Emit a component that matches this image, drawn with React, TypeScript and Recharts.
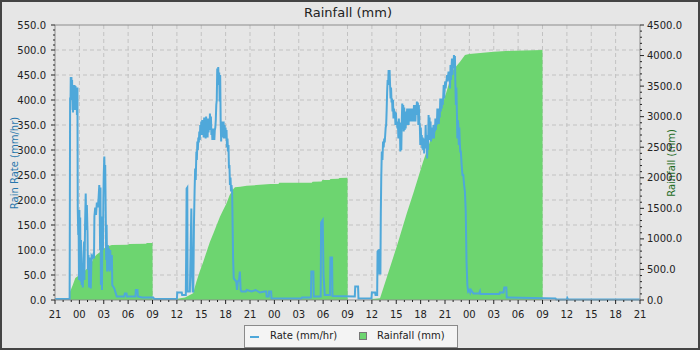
import { Area, CartesianGrid, ComposedChart, Legend, Line, ReferenceLine, XAxis, YAxis } from "recharts"

// hours counted from 21:00 on the first day
const hourLabels = ["21", "00", "03", "06", "09", "12", "15", "18", "21", "00", "03", "06", "09", "12", "15", "18", "21", "00", "03", "06", "09", "12", "15", "18", "21"]
const rateTicks = [0, 50, 100, 150, 200, 250, 300, 350, 400, 450, 500, 550]
const rainTicks = [0, 500, 1000, 1500, 2000, 2500, 3000, 3500, 4000, 4500]

// [hour, rate mm/hr]
const rate: [number, number][] = [
  [0, 2], [1.8, 2],
  [1.82, 123], [1.86, 405], [1.9, 380], [1.94, 446], [1.98, 420], [2.02, 446], [2.06, 430], [2.1, 440], [2.14, 400], [2.18, 430], [2.22, 375], [2.28, 425],
  [2.34, 380], [2.4, 430], [2.46, 395], [2.52, 428], [2.58, 380], [2.64, 425], [2.7, 370], [2.76, 425],
  [2.8, 183], [2.86, 130], [2.9, 175], [2.95, 40], [3.0, 180], [3.05, 60], [3.1, 165], [3.15, 37], [3.2, 120], [3.28, 30], [3.35, 60], [3.42, 25], [3.5, 80], [3.58, 117], [3.62, 40],
  [3.7, 150], [3.78, 213], [3.85, 140], [3.92, 190], [4.0, 137], [4.05, 60], [4.12, 90], [4.2, 25], [4.3, 85], [4.4, 23], [4.5, 88], [4.6, 85], [4.7, 90], [4.8, 83],
  [4.85, 167], [4.95, 185], [5.05, 170], [5.15, 195], [5.25, 185], [5.35, 200], [5.45, 230], [5.5, 190], [5.55, 100], [5.6, 225], [5.65, 30], [5.7, 150], [5.78, 20], [5.85, 167], [5.9, 100],
  [5.95, 200], [6.0, 250], [6.07, 287], [6.12, 240], [6.18, 270], [6.25, 160], [6.3, 80], [6.35, 150], [6.42, 57], [6.5, 110], [6.58, 60], [6.65, 103], [6.72, 57], [6.8, 100], [6.9, 60], [7.0, 90],
  [7.05, 30], [7.3, 23], [7.6, 7], [8.5, 7], [8.6, 13], [8.8, 13], [8.85, 7], [9.9, 7], [9.95, 20], [10.15, 20], [10.2, 7], [10.7, 5], [12.1, 5], [12.2, 2],
  [15.0, 2], [15.05, 15], [15.6, 15], [15.65, 10], [16.1, 10], [16.15, 100], [16.2, 223], [16.28, 225], [16.32, 17], [16.6, 17], [16.68, 90], [16.78, 183], [16.85, 60], [16.95, 17],
  [17.02, 17], [17.1, 150], [17.18, 217], [17.25, 263], [17.32, 240], [17.4, 297], [17.46, 280], [17.52, 317], [17.58, 300], [17.64, 325], [17.7, 315], [17.76, 337], [17.82, 320],
  [17.88, 350], [17.94, 330], [18.0, 357], [18.06, 335], [18.12, 360], [18.18, 330], [18.24, 355], [18.3, 325], [18.36, 365], [18.42, 330], [18.48, 360], [18.54, 323], [18.6, 367],
  [18.66, 335], [18.72, 360], [18.78, 325], [18.84, 363], [18.9, 335], [18.96, 355], [19.02, 340], [19.07, 373], [19.13, 345], [19.19, 367], [19.25, 330], [19.31, 343], [19.37, 320],
  [19.43, 340], [19.49, 322], [19.55, 343], [19.61, 320], [19.67, 340], [19.73, 345], [19.79, 360], [19.85, 390], [19.91, 400], [19.97, 463], [20.03, 430], [20.09, 466], [20.15, 440],
  [20.21, 455], [20.27, 397], [20.33, 450], [20.39, 357], [20.45, 317], [20.51, 350], [20.57, 325], [20.63, 357], [20.69, 330], [20.75, 357], [20.81, 323], [20.87, 350], [20.93, 330],
  [20.99, 345], [21.05, 323], [21.11, 340], [21.17, 305], [21.23, 323], [21.29, 297], [21.35, 310], [21.41, 263], [21.47, 270], [21.53, 230], [21.6, 245], [21.66, 217], [21.72, 230],
  [21.8, 217], [21.86, 150], [21.92, 83], [22.0, 43], [22.15, 40], [22.3, 37], [22.4, 20], [22.5, 37],
  [22.65, 40], [22.75, 57], [22.85, 20], [22.95, 17], [23.5, 17], [23.6, 20], [24.2, 17], [24.7, 20], [25.2, 15], [25.8, 17], [26.0, 17], [26.05, 7], [26.3, 7], [26.35, 17], [26.6, 17], [26.65, 3],
  [30.3, 3], [30.4, 5], [31.5, 5], [31.55, 57], [31.8, 57], [31.85, 7], [32.7, 7], [32.75, 155], [32.95, 160], [33.05, 50], [33.2, 10], [33.85, 10], [33.9, 85], [34.1, 85], [34.15, 8],
  [36.9, 7], [36.95, 27], [37.3, 27], [37.35, 3], [38.95, 3], [39.0, 15], [39.4, 15], [39.45, 10], [39.65, 10], [39.7, 97], [39.9, 100], [39.93, 53], [40.05, 53],
  [40.1, 173], [40.15, 240], [40.22, 297], [40.3, 280], [40.38, 317], [40.45, 305], [40.52, 323], [40.58, 315], [40.64, 330], [40.7, 345], [40.76, 350], [40.82, 380], [40.88, 417],
  [40.94, 440], [41.0, 430], [41.06, 460], [41.12, 450], [41.18, 460], [41.24, 430], [41.3, 403], [41.36, 425], [41.42, 395], [41.48, 403], [41.54, 377], [41.6, 400], [41.66, 363],
  [41.72, 383], [41.78, 365], [41.84, 377], [41.9, 350], [41.96, 375], [42.02, 350], [42.08, 357], [42.14, 343], [42.2, 357], [42.26, 323], [42.32, 363], [42.38, 330], [42.44, 355],
  [42.5, 297], [42.56, 317], [42.62, 300], [42.68, 357], [42.74, 393], [42.8, 360], [42.86, 390], [42.92, 337], [42.98, 385], [43.04, 340], [43.1, 377], [43.16, 343], [43.22, 370],
  [43.28, 350], [43.34, 383], [43.4, 355], [43.46, 380], [43.52, 350], [43.58, 383], [43.64, 357], [43.7, 380], [43.76, 360], [43.82, 383], [43.88, 357], [43.94, 380], [44.0, 362],
  [44.06, 383], [44.12, 357], [44.18, 390], [44.24, 360], [44.3, 385], [44.36, 357], [44.42, 390], [44.48, 370], [44.54, 397], [44.6, 375], [44.66, 395], [44.72, 350], [44.78, 390],
  [44.84, 355], [44.9, 350], [44.96, 310], [45.02, 345], [45.08, 315], [45.14, 330], [45.2, 303], [45.26, 325], [45.32, 300], [45.38, 323], [45.44, 293], [45.5, 320], [45.56, 303],
  [45.62, 350], [45.68, 310], [45.74, 330], [45.8, 283], [45.86, 320], [45.92, 300], [45.98, 370], [46.04, 335], [46.1, 365], [46.16, 320], [46.22, 357], [46.28, 317], [46.34, 345],
  [46.4, 323], [46.46, 330], [46.52, 325], [46.58, 350], [46.64, 323], [46.7, 345], [46.76, 337], [46.82, 363], [46.88, 340], [46.94, 360], [47.0, 350], [47.06, 383], [47.12, 355],
  [47.18, 380], [47.24, 352], [47.3, 383], [47.36, 365], [47.42, 403], [47.48, 377], [47.54, 400], [47.6, 383], [47.66, 403], [47.72, 390], [47.78, 405], [47.84, 430], [47.9, 403],
  [47.96, 425], [48.02, 437], [48.08, 423], [48.14, 435], [48.2, 440], [48.26, 450], [48.32, 437], [48.38, 448], [48.44, 457], [48.5, 443], [48.56, 455], [48.62, 423], [48.68, 470],
  [48.74, 440], [48.8, 465], [48.86, 483], [48.92, 450], [48.98, 480], [49.04, 463], [49.1, 490], [49.16, 470], [49.22, 488], [49.28, 430], [49.34, 390], [49.4, 425], [49.46, 377],
  [49.52, 323], [49.58, 360], [49.64, 350], [49.7, 310], [49.76, 345], [49.82, 315], [49.88, 297], [49.95, 297], [50.05, 270], [50.15, 250], [50.25, 250], [50.35, 230], [50.45, 217],
  [50.55, 177], [50.65, 77], [50.75, 30], [50.85, 17], [51.0, 20], [51.1, 15], [51.2, 20], [51.3, 17], [51.5, 13], [52.2, 13], [52.3, 17], [52.35, 12], [54.7, 12], [54.75, 15], [55.2, 15],
  [55.3, 25], [55.55, 25], [55.6, 5], [61.6, 3], [61.7, 1], [63.0, 1], [63.05, 4], [63.15, 1], [72, 1],
]

// [hour, rainfall mm] - daily total, resets at 09:00
const rainfall: [number, number][] = [
  [0, 0], [1.84, 0], [1.86, 140], [2.2, 250], [2.5, 360], [3.0, 410], [3.5, 460], [4.0, 520], [4.4, 570], [4.7, 680], [5.1, 740], [5.6, 790], [6.1, 850], [6.5, 880], [7.0, 900],
  [9.0, 905], [9.1, 916], [11.2, 920], [11.3, 933], [12.0, 933], [12.02, 0],
  [15.0, 0], [15.05, 20], [16.0, 40], [17.0, 110], [17.4, 300], [17.8, 464], [18.25, 627], [18.66, 791], [19.07, 955], [19.5, 1091], [19.9, 1227], [20.3, 1363], [20.7, 1472],
  [21.1, 1581], [21.5, 1718], [21.95, 1816], [22.15, 1843], [22.8, 1854], [23.6, 1870], [24.8, 1880], [26.5, 1898], [27.5, 1900], [27.6, 1920], [31.6, 1920], [31.7, 1936],
  [32.8, 1940], [32.9, 1963], [33.8, 1965], [33.9, 1980], [34.9, 1985], [35.0, 1997], [36.0, 2000], [36.02, 0],
  [38.9, 0], [39.0, 15], [40.0, 30], [40.8, 355], [42.05, 873], [43.3, 1418], [44.1, 1745], [45.3, 2263], [46.56, 2754], [47.8, 3245], [49.0, 3763], [49.85, 3900], [50.46, 4009],
  [51.0, 4025], [52.0, 4036], [54.0, 4063], [56.5, 4080], [60.0, 4091], [60.02, 0], [72, 0],
]

const rateName = "Rate (mm/hr)"
const rainName = "Rainfall (mm)"
const rateColor = "#4fa8da"
const rainColor = "#6dd570"

const hourSet = Array.from(new Set([...rate.map((p) => p[0]), ...rainfall.map((p) => p[0])])).sort((a, b) => a - b)
const rateMap = new Map(rate)
const rainMap = new Map(rainfall)
const chartData = hourSet.map((h) => ({ h, rate: rateMap.get(h) ?? null, rain: rainMap.get(h) ?? null }))

const xTicks = Array.from({ length: 73 }, (_, i) => i)
const leftTicks = Array.from({ length: 56 }, (_, i) => i * 10)
const rightTicks = Array.from({ length: 46 }, (_, i) => i * 100)

const font = "'DejaVu Sans', sans-serif"
const tickColor = "#222"
const axisColor = "#8c8c8c"

const XTick = (props: any) => {
  const { x, y, payload } = props
  const v = payload.value
  const major = v % 3 === 0
  return (
    <g>
      <line x1={x} x2={x} y1={y} y2={y + (major ? 4 : 2)} stroke={tickColor} />
      {major && (
        <text x={x} y={y + 18} textAnchor="middle" fontSize={10} fontFamily={font} fill={tickColor}>
          {hourLabels[v / 3]}
        </text>
      )}
    </g>
  )
}

const LeftTick = (props: any) => {
  const { x, y, payload } = props
  const v = payload.value
  const major = rateTicks.includes(v)
  return (
    <g>
      <line x1={x} x2={x - (major ? 4 : 2)} y1={y} y2={y} stroke={tickColor} />
      {major && (
        <text x={x - 9} y={y + 3.5} textAnchor="end" fontSize={10} fontFamily={font} fill={tickColor}>
          {v.toFixed(1)}
        </text>
      )}
    </g>
  )
}

const RightTick = (props: any) => {
  const { x, y, payload } = props
  const v = payload.value
  const major = rainTicks.includes(v)
  return (
    <g>
      <line x1={x} x2={x + (major ? 4 : 2)} y1={y} y2={y} stroke={tickColor} />
      {major && (
        <text x={x + 7} y={y + 3.5} textAnchor="start" fontSize={10} fontFamily={font} fill={tickColor}>
          {v.toFixed(1)}
        </text>
      )}
    </g>
  )
}

const renderLegend = () => (
  <div
    style={{
      position: "relative",
      width: 214,
      height: 23,
      boxSizing: "border-box",
      border: "1px solid #8a8a8a",
      background: "#f4f4f4",
      fontFamily: font,
      fontSize: 10,
      color: "#222",
    }}
  >
    <span style={{ position: "absolute", left: 5, top: 10, width: 9, height: 2, background: rateColor }} />
    <span style={{ position: "absolute", left: 25, top: 4, lineHeight: "12px" }}>{rateName}</span>
    <span style={{ position: "absolute", left: 114, top: 6, width: 8, height: 8, boxSizing: "border-box", border: "1px solid #777", background: rainColor }} />
    <span style={{ position: "absolute", left: 132, top: 4, lineHeight: "12px" }}>{rainName}</span>
  </div>
)

export default function App() {
  return (
    <div
      style={{
        position: "absolute",
        left: 0,
        top: 0,
        width: 700,
        height: 350,
        boxSizing: "border-box",
        border: "2px solid #444",
        background: "#e6e6e6",
      }}
    >
      <ComposedChart width={696} height={346} data={chartData} margin={{ top: 23, right: 10, bottom: 28, left: 10 }}>
        <CartesianGrid
          yAxisId="left"
          stroke="#c2c2c2"
          strokeDasharray="4 3"
          horizontalValues={rateTicks.slice(1, -1)}
          verticalValues={xTicks.filter((t) => t % 3 === 0 && t > 0 && t < 72)}
        />
        <XAxis
          dataKey="h"
          type="number"
          domain={[0, 72]}
          ticks={xTicks}
          interval={0}
          tickSize={0}
          tickMargin={0}
          tickLine={false}
          tick={XTick}
          axisLine={{ stroke: axisColor }}
          height={20}
        />
        <YAxis
          yAxisId="left"
          orientation="left"
          width={43}
          domain={[0, 550]}
          ticks={leftTicks}
          interval={0}
          tickSize={0}
          tickMargin={0}
          tickLine={false}
          tick={LeftTick}
          axisLine={{ stroke: axisColor }}
        />
        <YAxis
          yAxisId="right"
          orientation="right"
          width={48}
          domain={[0, 4500]}
          ticks={rightTicks}
          interval={0}
          tickSize={0}
          tickMargin={0}
          tickLine={false}
          tick={RightTick}
          axisLine={{ stroke: axisColor }}
        />
        <ReferenceLine yAxisId="left" y={550} stroke={axisColor} />
        <Area
          yAxisId="right"
          dataKey="rain"
          name={rainName}
          type="linear"
          stroke="none"
          fill={rainColor}
          fillOpacity={1}
          connectNulls
          isAnimationActive={false}
        />
        <Line
          yAxisId="left"
          dataKey="rate"
          name={rateName}
          type="linear"
          stroke={rateColor}
          strokeWidth={2}
          dot={false}
          activeDot={false}
          connectNulls
          isAnimationActive={false}
        />
        <Legend
          content={renderLegend}
          layout="horizontal"
          verticalAlign="middle"
          align="center"
          wrapperStyle={{ top: 323, left: 242, width: 214, height: 23 }}
        />
        <text x={346} y={15} textAnchor="middle" fontSize={13} fontFamily={font} fill="#222">
          Rainfall (mm)
        </text>
        <text
          x={12}
          y={161}
          transform="rotate(-90 12 161)"
          textAnchor="middle"
          dominantBaseline="central"
          fontSize={10}
          fontFamily={font}
          fill="#2877ad"
        >
          Rain Rate (mm/hr)
        </text>
        <text
          x={669}
          y={161}
          transform="rotate(-90 669 161)"
          textAnchor="middle"
          dominantBaseline="central"
          fontSize={10}
          fontFamily={font}
          fill="#256d25"
        >
          Rainfall (mm)
        </text>
      </ComposedChart>
    </div>
  )
}
